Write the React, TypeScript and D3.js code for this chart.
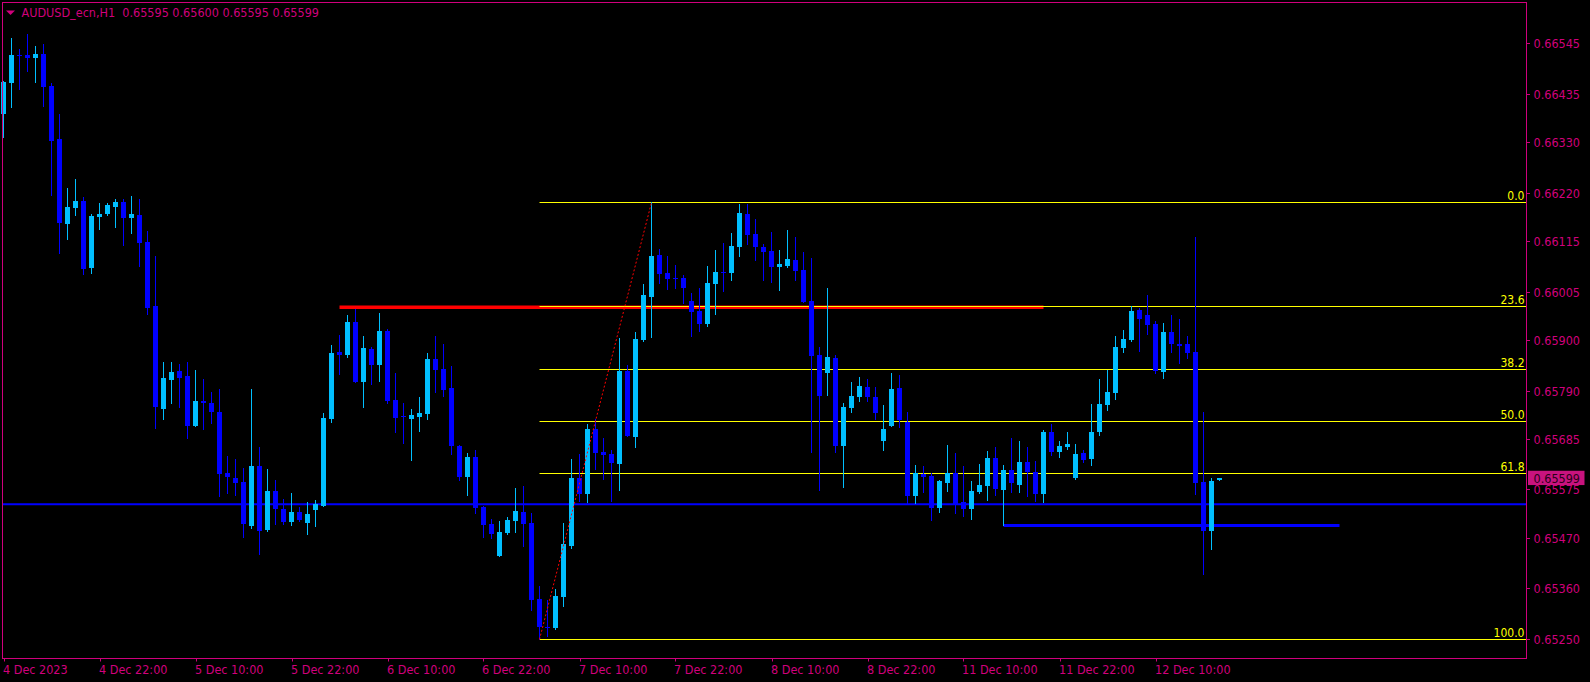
import React from "react";
import * as d3 from "d3";

// ---- data (AUDUSD_ecn, H1) ----
const opens = [
  0.66392, 0.66459, 0.66519, 0.66519, 0.66514, 0.66522, 0.66452, 0.66337, 0.66153, 0.66187,
  0.66202, 0.66057, 0.66168, 0.66174, 0.66190, 0.66200, 0.66166, 0.66172, 0.66114, 0.65974,
  0.65751, 0.65814, 0.65832, 0.65822, 0.65714, 0.65767, 0.65762, 0.65743, 0.65610, 0.65601,
  0.65591, 0.65496, 0.65626, 0.65488, 0.65572, 0.65532, 0.65505, 0.65526, 0.65503, 0.65531,
  0.65540, 0.65729, 0.65874, 0.65867, 0.65939, 0.65809, 0.65880, 0.65846, 0.65919, 0.65769,
  0.65735, 0.65729, 0.65733, 0.65740, 0.65859, 0.65837, 0.65795, 0.65670, 0.65603, 0.65645,
  0.65537, 0.65500, 0.65431, 0.65481, 0.65507, 0.65526, 0.65502, 0.65337, 0.65276, 0.65274,
  0.65342, 0.65453, 0.65600, 0.65566, 0.65706, 0.65656, 0.65652, 0.65631, 0.65832, 0.65690,
  0.65900, 0.65994, 0.66085, 0.66046, 0.66035, 0.66035, 0.65985, 0.65963, 0.65935, 0.66022,
  0.66048, 0.66046, 0.66103, 0.66174, 0.66130, 0.66102, 0.66093, 0.66059, 0.66061, 0.66074,
  0.66052, 0.65985, 0.65867, 0.65829, 0.65861, 0.65670, 0.65753, 0.65777, 0.65798, 0.65776,
  0.65681, 0.65714, 0.65795, 0.65722, 0.65561, 0.65609, 0.65604, 0.65535, 0.65590, 0.65611,
  0.65548, 0.65533, 0.65570, 0.65583, 0.65643, 0.65574, 0.65617, 0.65585, 0.65635, 0.65613,
  0.65566, 0.65700, 0.65657, 0.65667, 0.65601, 0.65654, 0.65642, 0.65700, 0.65759, 0.65785,
  0.65882, 0.65900, 0.65965, 0.65954, 0.65935, 0.65831, 0.65917, 0.65891, 0.65891, 0.65874,
  0.65591, 0.65485, 0.65595,
];
const highs = [
  0.66463, 0.66556, 0.66532, 0.66565, 0.66539, 0.66543, 0.66459, 0.66391, 0.66230, 0.66250,
  0.66211, 0.66174, 0.66198, 0.66198, 0.66206, 0.66206, 0.66213, 0.66206, 0.66137, 0.66083,
  0.65852, 0.65852, 0.65848, 0.65852, 0.65835, 0.65815, 0.65787, 0.65793, 0.65648, 0.65641,
  0.65622, 0.65793, 0.65667, 0.65619, 0.65596, 0.65554, 0.65567, 0.65537, 0.65548, 0.65552,
  0.65741, 0.65889, 0.65911, 0.65954, 0.65967, 0.65909, 0.65885, 0.65959, 0.65924, 0.65828,
  0.65763, 0.65750, 0.65776, 0.65872, 0.65909, 0.65891, 0.65843, 0.65672, 0.65654, 0.65661,
  0.65539, 0.65511, 0.65506, 0.65515, 0.65578, 0.65583, 0.65524, 0.65366, 0.65335, 0.65359,
  0.65502, 0.65641, 0.65652, 0.65717, 0.65728, 0.65687, 0.65661, 0.65904, 0.65846, 0.65917,
  0.66022, 0.66199, 0.66098, 0.66082, 0.66063, 0.66041, 0.66002, 0.66013, 0.66061, 0.66096,
  0.66111, 0.66132, 0.66196, 0.66196, 0.66163, 0.66109, 0.66135, 0.66096, 0.66139, 0.66124,
  0.66091, 0.66078, 0.65885, 0.66013, 0.65867, 0.65763, 0.65809, 0.65819, 0.65815, 0.65798,
  0.65759, 0.65828, 0.65824, 0.65743, 0.65628, 0.65626, 0.65611, 0.65596, 0.65672, 0.65654,
  0.65626, 0.65593, 0.65630, 0.65659, 0.65667, 0.65628, 0.65688, 0.65680, 0.65667, 0.65637,
  0.65704, 0.65717, 0.65680, 0.65700, 0.65674, 0.65661, 0.65761, 0.65815, 0.65835, 0.65909,
  0.65922, 0.65974, 0.65969, 0.65998, 0.65941, 0.65937, 0.65954, 0.65946, 0.65909, 0.66124,
  0.65743, 0.65600, 0.65600,
];
const lows = [
  0.66342, 0.66406, 0.66445, 0.66485, 0.66461, 0.66409, 0.66216, 0.66090, 0.66120, 0.66172,
  0.66044, 0.66046, 0.66142, 0.66172, 0.66146, 0.66107, 0.66133, 0.66061, 0.65957, 0.65709,
  0.65728, 0.65763, 0.65754, 0.65688, 0.65714, 0.65707, 0.65719, 0.65561, 0.65568, 0.65564,
  0.65472, 0.65492, 0.65435, 0.65485, 0.65501, 0.65501, 0.65498, 0.65507, 0.65479, 0.65496,
  0.65540, 0.65722, 0.65827, 0.65863, 0.65809, 0.65755, 0.65805, 0.65811, 0.65764, 0.65700,
  0.65677, 0.65640, 0.65703, 0.65729, 0.65787, 0.65779, 0.65653, 0.65596, 0.65564, 0.65524,
  0.65472, 0.65470, 0.65431, 0.65479, 0.65483, 0.65453, 0.65314, 0.65249, 0.65257, 0.65272,
  0.65322, 0.65448, 0.65550, 0.65548, 0.65620, 0.65598, 0.65550, 0.65574, 0.65691, 0.65668,
  0.65898, 0.65907, 0.66024, 0.66011, 0.66014, 0.65981, 0.65909, 0.65920, 0.65931, 0.65957,
  0.66007, 0.66031, 0.66083, 0.66109, 0.66074, 0.66031, 0.66027, 0.66009, 0.66059, 0.66031,
  0.65983, 0.65657, 0.65574, 0.65781, 0.65657, 0.65581, 0.65744, 0.65768, 0.65768, 0.65729,
  0.65661, 0.65714, 0.65711, 0.65546, 0.65546, 0.65570, 0.65509, 0.65527, 0.65572, 0.65524,
  0.65518, 0.65511, 0.65567, 0.65553, 0.65564, 0.65497, 0.65570, 0.65570, 0.65561, 0.65550,
  0.65548, 0.65650, 0.65646, 0.65663, 0.65598, 0.65635, 0.65629, 0.65694, 0.65748, 0.65772,
  0.65874, 0.65898, 0.65876, 0.65913, 0.65829, 0.65818, 0.65874, 0.65850, 0.65861, 0.65566,
  0.65391, 0.65446, 0.65595,
];
const closes = [
  0.66461, 0.66519, 0.66518, 0.66514, 0.66522, 0.66450, 0.66332, 0.66154, 0.66189, 0.66202,
  0.66054, 0.66169, 0.66174, 0.66193, 0.66200, 0.66166, 0.66174, 0.66111, 0.65970, 0.65755,
  0.65817, 0.65830, 0.65818, 0.65714, 0.65767, 0.65764, 0.65744, 0.65609, 0.65603, 0.65590,
  0.65501, 0.65626, 0.65485, 0.65572, 0.65533, 0.65505, 0.65526, 0.65509, 0.65522, 0.65543,
  0.65730, 0.65872, 0.65867, 0.65939, 0.65809, 0.65882, 0.65846, 0.65919, 0.65768, 0.65731,
  0.65732, 0.65737, 0.65741, 0.65859, 0.65835, 0.65792, 0.65670, 0.65603, 0.65645, 0.65535,
  0.65498, 0.65479, 0.65482, 0.65509, 0.65528, 0.65501, 0.65335, 0.65277, 0.65275, 0.65343,
  0.65456, 0.65600, 0.65566, 0.65706, 0.65655, 0.65650, 0.65633, 0.65832, 0.65692, 0.65902,
  0.65998, 0.66082, 0.66044, 0.66033, 0.66033, 0.66014, 0.65961, 0.65935, 0.66024, 0.66048,
  0.66046, 0.66104, 0.66176, 0.66129, 0.66103, 0.66092, 0.66059, 0.66065, 0.66076, 0.66050,
  0.65983, 0.65866, 0.65779, 0.65863, 0.65670, 0.65754, 0.65778, 0.65800, 0.65777, 0.65741,
  0.65706, 0.65793, 0.65727, 0.65561, 0.65611, 0.65603, 0.65535, 0.65593, 0.65611, 0.65544,
  0.65533, 0.65572, 0.65585, 0.65643, 0.65577, 0.65617, 0.65590, 0.65635, 0.65614, 0.65566,
  0.65700, 0.65657, 0.65669, 0.65674, 0.65652, 0.65640, 0.65700, 0.65761, 0.65787, 0.65885,
  0.65902, 0.65963, 0.65946, 0.65932, 0.65833, 0.65917, 0.65892, 0.65887, 0.65872, 0.65590,
  0.65485, 0.65593, 0.65599,
];

const priceTicks = [
  0.66545, 0.66435, 0.6633, 0.6622, 0.66115, 0.66005, 0.659, 0.6579, 0.65685, 0.65575,
  0.6547, 0.6536, 0.6525,
];
const timeTickBars = [0, 12, 24, 36, 48, 60, 72, 84, 96, 108, 120, 132, 144];
const timeTickLabels = [
  "4 Dec 2023", "4 Dec 22:00", "5 Dec 10:00", "5 Dec 22:00", "6 Dec 10:00", "6 Dec 22:00",
  "7 Dec 10:00", "7 Dec 22:00", "8 Dec 10:00", "8 Dec 22:00", "11 Dec 10:00", "11 Dec 22:00",
  "12 Dec 10:00",
];

const fibLevels = [0.0, 23.6, 38.2, 50.0, 61.8, 100.0];
const fibHigh = 0.66199;
const fibLow = 0.65249;
const fibHighBar = 81;
const fibLowBar = 67;

const redLevel = 0.65971;
const redFromBar = 42;
const redToBar = 130;
const blueThinLevel = 0.65543;
const blueThickLevel = 0.65497;
const blueThickFromBar = 125;
const blueThickToBar = 167;

const symbolTitle = "AUDUSD_ecn,H1";
const lastBid = 0.65599;

// ---- layout ----
const W = 1590;
const H = 682;
const plotL = 2.5;
const plotT = 2.5;
const plotR = 1526.5;
const plotB = 658.5;

const AXIS = "#D0007C";
const BULL = "#00BFFF";
const BEAR = "#0000FF";
const YELLOW = "#FFFF00";
const FONT = "'DejaVu Sans Condensed', 'DejaVu Sans', sans-serif";

export default function App() {
  const x = d3.scaleLinear().domain([0, 100]).range([3.5, 803.5]);
  const y = d3.scaleLinear().domain([0.6525, 0.66545]).range([639.0, 43.3]);
  const snap = (v: number) => Math.round(v) + 0.5;

  const candles = opens.map((o, i) => {
    const c = closes[i];
    const h = highs[i];
    const l = lows[i];
    const up = c > o;
    const col = up ? BULL : BEAR;
    const cx = x(i);
    const yTop = Math.round(y(Math.max(o, c)));
    const yBot = Math.round(y(Math.min(o, c)));
    const bh = Math.max(1, yBot - yTop);
    const yH = Math.round(y(h));
    const yL = Math.round(y(l));
    return (
      <g key={i}>
        <rect x={cx - 0.5} y={yH} width={1} height={Math.max(1, yL - yH + 1)} fill={col} />
        <rect x={cx - 2.5} y={yTop} width={5} height={bh} fill={col} />
      </g>
    );
  });

  const fibX0 = x(fibLowBar);
  const lastY = y(lastBid);

  return (
    <svg
      width={W}
      height={H}
      style={{ position: "fixed", left: 0, top: 0, display: "block", background: "#000" }}
      fontFamily={FONT}
      fontStretch="condensed"
    >
      <rect x={0} y={0} width={W} height={H} fill="#000" />

      {/* thin blue horizontal line */}
      <line x1={plotL} x2={plotR} y1={y(blueThinLevel)} y2={y(blueThinLevel)} stroke={BEAR} strokeWidth={2} />

      {/* red resistance line */}
      <line x1={x(redFromBar)} x2={x(redToBar)} y1={y(redLevel)} y2={y(redLevel)} stroke="#FF0000" strokeWidth={3.5} />

      {/* fibonacci levels */}
      {fibLevels.map((lv) => {
        const p = fibHigh - (lv / 100) * (fibHigh - fibLow);
        const yy = snap(y(p));
        return (
          <g key={lv}>
            <line x1={fibX0} x2={plotR} y1={yy} y2={yy} stroke={YELLOW} strokeWidth={1} />
            <text x={1524.5} y={yy - 3} fill={YELLOW} fontSize={12} textAnchor="end">
              {lv.toFixed(1)}
            </text>
          </g>
        );
      })}

      {/* thick blue support line */}
      <line
        x1={x(blueThickFromBar)}
        x2={x(blueThickToBar)}
        y1={y(blueThickLevel)}
        y2={y(blueThickLevel)}
        stroke={BEAR}
        strokeWidth={3}
      />

      {candles}

      {/* fib trend line (dotted red) */}
      <line
        x1={x(fibLowBar)}
        y1={y(fibLow)}
        x2={x(fibHighBar)}
        y2={y(fibHigh)}
        stroke="#FF0000"
        strokeWidth={1}
        strokeDasharray="2,2"
      />

      {/* frame */}
      <rect x={plotL} y={plotT} width={plotR - plotL} height={plotB - plotT} fill="none" stroke={AXIS} strokeWidth={1} />

      {/* price axis */}
      {priceTicks.map((p) => {
        const yy = snap(y(p));
        return (
          <g key={p}>
            <line x1={plotR} x2={plotR + 3.5} y1={yy} y2={yy} stroke={AXIS} strokeWidth={1} />
            <text x={1533.5} y={yy + 4.5} fill={AXIS} fontSize={12.5}>
              {p.toFixed(5)}
            </text>
          </g>
        );
      })}

      {/* current price label */}
      <rect x={1528} y={lastY - 7.7} width={56.5} height={14.3} fill="#C8137E" />
      <text x={1533.5} y={lastY + 4.5} fill="#2A0018" fontSize={12.5}>
        {lastBid.toFixed(5)}
      </text>

      {/* time axis */}
      {timeTickBars.map((b, i) => {
        const xx = snap(x(b));
        return (
          <g key={b}>
            <line x1={xx} x2={xx} y1={plotB} y2={plotB + 3} stroke={AXIS} strokeWidth={1} />
            <text x={xx - 1.5} y={674} fill={AXIS} fontSize={12.5}>
              {timeTickLabels[i]}
            </text>
          </g>
        );
      })}

      {/* header */}
      <path d="M6,10.5 L15,10.5 L10.5,15 Z" fill={AXIS} />
      <text x={21.5} y={17} fill={AXIS} fontSize={12.5} style={{ whiteSpace: "pre" }}>
        {`${symbolTitle}  ${opens[opens.length - 1].toFixed(5)} ${highs[highs.length - 1].toFixed(5)} ${lows[lows.length - 1].toFixed(5)} ${closes[closes.length - 1].toFixed(5)}`}
      </text>
    </svg>
  );
}
